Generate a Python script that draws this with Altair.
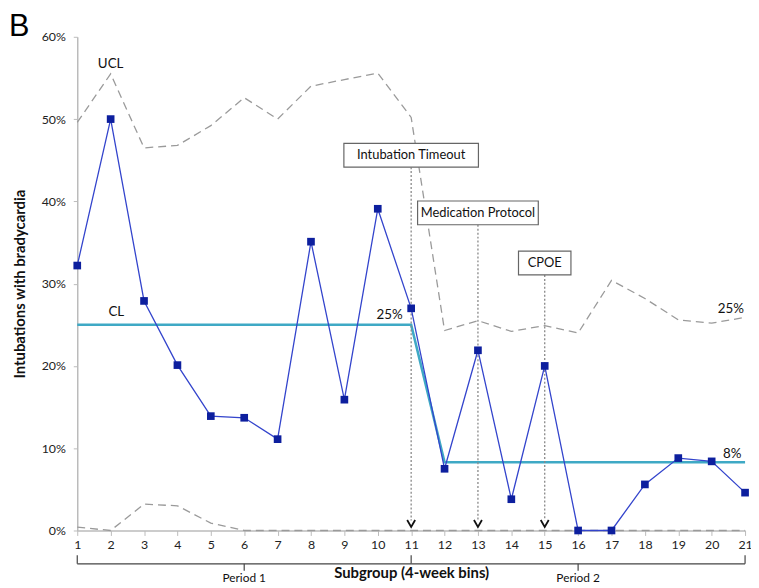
import altair as alt
import pandas as pd

# ---- data ----
subgroup = [1, 2, 3, 4, 5, 6, 7, 8, 9, 10, 11, 12, 13, 14, 15, 16, 17, 18, 19, 20, 21]
pct = [0.322, 0.500, 0.279, 0.201, 0.139, 0.137, 0.111, 0.351, 0.159, 0.391, 0.270,
       0.075, 0.219, 0.038, 0.200, 0.000, 0.000, 0.056, 0.088, 0.084, 0.046]
ucl = [0.496, 0.555, 0.465, 0.468, 0.492, 0.526, 0.500, 0.540, 0.548, 0.556, 0.502,
       0.243, 0.255, 0.242, 0.249, 0.240, 0.304, 0.282, 0.256, 0.252, 0.259]
lcl = [0.004, 0.000, 0.032, 0.030, 0.009, 0.000, 0.000, 0.000, 0.000, 0.000, 0.000,
       0.000, 0.000, 0.000, 0.000, 0.000, 0.000, 0.000, 0.000, 0.000, 0.000]
cl = [0.25, 0.25, 0.25, 0.25, 0.25, 0.25, 0.25, 0.25, 0.25, 0.25, 0.25,
      0.083, 0.083, 0.083, 0.083, 0.083, 0.083, 0.083, 0.083, 0.083, 0.083]

event_names = ["Intubation Timeout", "Medication Protocol", "CPOE"]
event_at = [11, 13, 15]
event_box_y = [0.456, 0.386, 0.325]
event_box_w = [136, 122, 53]

period_names = ["Period 1", "Period 2"]
period_start = [1, 11]
period_end = [11, 21]
period_mid = [6, 16]

y_ticks = [0, 0.1, 0.2, 0.3, 0.4, 0.5, 0.6]

FONT = "Lato"

main = pd.DataFrame({"x": subgroup, "y": pct})
limits = pd.DataFrame({
    "x": subgroup * 2,
    "y": ucl + lcl,
    "s": ["UCL"] * 21 + ["LCL"] * 21,
})
cl_df = pd.DataFrame({"x": subgroup, "y": cl})

XS = alt.Scale(domain=[1, 21], nice=False, zero=False)
YS = alt.Scale(domain=[0, 0.6], nice=False)

AX = alt.Axis(values=subgroup, format="d", title="Subgroup (4-week bins)",
              grid=False, labelFontSize=12.5, labelColor="#222",
              labelFont=FONT, tickColor="#bbb", domainColor="#bbb",
              domainWidth=1.5, tickSize=5, labelPadding=3,
              labelOverlap=False, labelFlush=False,
              titleFont=FONT, titleFontSize=15, titleFontWeight="bold",
              titleColor="#111", titleY=36, titleBaseline="top")
AY = alt.Axis(values=y_ticks, format=".0%", title="Intubations with bradycardia",
              grid=False, labelFontSize=12.5, labelColor="#222",
              labelFont=FONT, tickColor="#bbb", domainColor="#bbb",
              domainWidth=1.5, tickSize=4, labelPadding=8,
              labelOverlap=False, labelFlush=False,
              titleFont=FONT, titleFontSize=15, titleFontWeight="bold",
              titleColor="#111", titleX=-50)


def xe(field="x"):
    return alt.X(f"{field}:Q", scale=XS, axis=AX, title="Subgroup (4-week bins)")


def ye(field="y"):
    return alt.Y(f"{field}:Q", scale=YS, axis=AY, title="Intubations with bradycardia")


limit_lines = alt.Chart(limits).mark_line(
    color="#9a9a9a", strokeDash=[8, 5], strokeWidth=1.3
).encode(x=xe(), y=ye(), detail="s:N")

cl_line = alt.Chart(cl_df).mark_line(color="#3fa9c5", strokeWidth=2.6).encode(x=xe(), y=ye())

ev = pd.DataFrame({"x": event_at, "y": event_box_y, "name": event_names,
                   "y0": [0.012] * 3, "ya": [0.0085] * 3})

ev_rules = alt.Chart(ev).mark_rule(
    color="#888", strokeDash=[2, 2], strokeWidth=1.3
).encode(x=xe(), y=ye(), y2="y0:Q")

boxes = []
for i in range(len(event_names)):
    sub = ev.iloc[[i]]
    boxes.append(
        alt.Chart(sub).mark_rect(width=event_box_w[i], height=24, fill="white",
                                 stroke="#666", strokeWidth=1.2)
        .encode(x=xe(), y=ye())
    )
box_text = alt.Chart(ev).mark_text(font=FONT, fontSize=13, color="#111").encode(
    x=xe(), y=ye(), text="name:N")

arrows = alt.Chart(ev).mark_point(
    shape="M-0.45,-0.4L0,0.4L0.45,-0.4", filled=False, color="#111",
    strokeWidth=1.8, size=320, opacity=1
).encode(x=xe(), y=ye("ya"))

data_line = alt.Chart(main).mark_line(color="#3344cc", strokeWidth=1.3).encode(x=xe(), y=ye())
data_pts = alt.Chart(main).mark_point(
    shape="square", filled=True, color="#0d1f9e", size=60, opacity=1
).encode(x=xe(), y=ye())

labels = pd.DataFrame({
    "x": [2.0, 2.17, 10.75, 20.97, 20.89],
    "y": [0.567, 0.265, 0.262, 0.269, 0.0925],
    "t": ["UCL", "CL", "25%", "25%", "8%"],
    "a": ["center", "center", "right", "right", "right"],
})
lab_c = alt.Chart(labels[labels.a == "center"]).mark_text(
    font=FONT, fontSize=13.5, color="#111").encode(x=xe(), y=ye(), text="t:N")
lab_r = alt.Chart(labels[labels.a == "right"]).mark_text(
    font=FONT, fontSize=13.5, color="#111", align="right").encode(x=xe(), y=ye(), text="t:N")

# period brackets below the axis
per = pd.DataFrame({"x": period_start, "x2": period_end, "mid": period_mid,
                    "name": period_names, "yb": [-0.0405] * 2,
                    "ym": [-0.049] * 2, "ytxt": [-0.0575] * 2})
br_h = alt.Chart(per).mark_rule(color="#444", strokeWidth=1.2).encode(
    x=xe(), x2="x2:Q", y=ye("yb"))
ends = pd.DataFrame({"x": [1, 11, 21], "yb": [-0.0405] * 3, "yt": [-0.030] * 3})
br_v = alt.Chart(ends).mark_rule(color="#444", strokeWidth=1.2).encode(
    x=xe(), y=ye("yb"), y2="yt:Q")
br_m = alt.Chart(per).mark_rule(color="#444", strokeWidth=1.2).encode(
    x=xe("mid"), y=ye("yb"), y2="ym:Q")
per_txt = alt.Chart(per).mark_text(font=FONT, fontSize=12, color="#111").encode(
    x=xe("mid"), y=ye("ytxt"), text="name:N")

panel = alt.Chart(pd.DataFrame({"t": ["B"]})).mark_text(
    font="Liberation Sans", fontSize=31, color="#000", align="left", baseline="alphabetic"
).encode(text="t:N", x=alt.value(-69), y=alt.value(-1))

chart = alt.layer(
    limit_lines, cl_line, ev_rules, *boxes, box_text, arrows,
    data_line, data_pts, lab_c, lab_r, br_h, br_v, br_m, per_txt, panel
).properties(
    width=675, height=499, autosize="none", background="white",
    padding={"left": 70, "top": 26, "right": 6, "bottom": 54}
).configure_view(stroke=None)

chart.save("out.html", embed_options={"renderer": "svg", "actions": False})
